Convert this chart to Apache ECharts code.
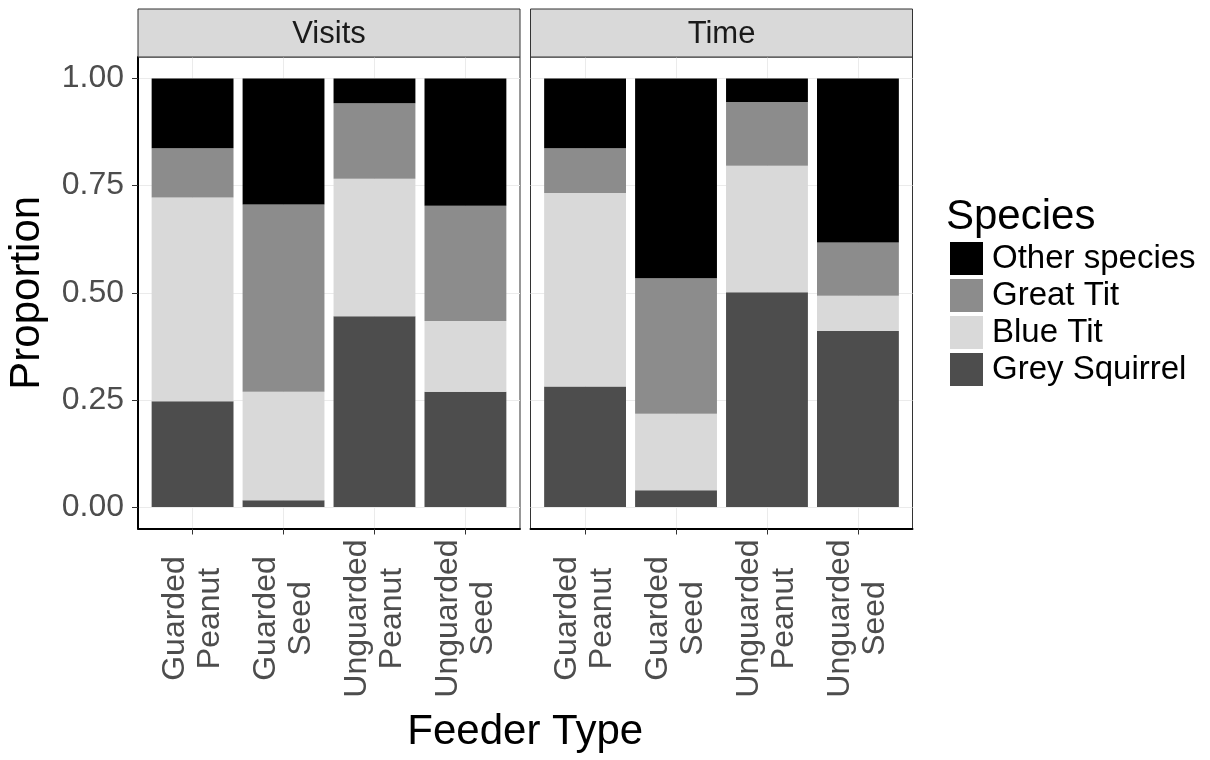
<!DOCTYPE html>
<html>
<head>
<meta charset="utf-8">
<script src="https://cdn.jsdelivr.net/npm/echarts@6/dist/echarts.min.js"></script>
<style>html,body{margin:0;padding:0;background:#fff;}#c{width:1210px;height:760px;}</style>
</head>
<body>
<div id="c"></div>
<script>
// ---- data ----
const categories = ['Guarded\nPeanut', 'Guarded\nSeed', 'Unguarded\nPeanut', 'Unguarded\nSeed'];
const panels = ['Visits', 'Time'];
const species = ['Grey Squirrel', 'Blue Tit', 'Great Tit', 'Other species'];
const legendOrder = ['Other species', 'Great Tit', 'Blue Tit', 'Grey Squirrel'];
const yTicks = [0, 0.25, 0.5, 0.75, 1];

const visitsGreySquirrel = [0.247, 0.016, 0.445, 0.269];
const visitsBlueTit      = [0.475, 0.253, 0.321, 0.165];
const visitsGreatTit     = [0.115, 0.437, 0.176, 0.269];
const visitsOther        = [0.163, 0.294, 0.058, 0.297];

const timeGreySquirrel = [0.281, 0.039, 0.501, 0.411];
const timeBlueTit      = [0.452, 0.179, 0.295, 0.082];
const timeGreatTit     = [0.104, 0.316, 0.149, 0.124];
const timeOther        = [0.163, 0.466, 0.055, 0.383];

const panelData = [
  [visitsGreySquirrel, visitsBlueTit, visitsGreatTit, visitsOther],
  [timeGreySquirrel, timeBlueTit, timeGreatTit, timeOther]
];
const colors = { 'Grey Squirrel': '#4d4d4d', 'Blue Tit': '#d9d9d9', 'Great Tit': '#8c8c8c', 'Other species': '#000000' };

// ---- layout ----
const FONT = 'Liberation Sans, Arial, sans-serif';
const gridLefts = [138, 530.5];
const gridTop = 57, gridW = 382, gridH = 471.5;
const xTickVals = categories.map((c, i) => i + 1);
const unit = gridW / (categories.length + 0.2);   // ggplot discrete expansion 0.6 each side

const chart = echarts.init(document.getElementById('c'), null, { renderer: 'canvas' });

const grids = [], xAxes = [], yAxes = [], series = [], graphics = [];
// outer (decoration) grids: 0,1 ; inner (bar) grids: 2,3
panels.forEach((p, k) => {
  grids.push({ left: gridLefts[k], top: gridTop, width: gridW, height: gridH, show: true,
    borderColor: '#333333', borderWidth: 1, backgroundColor: '#fff' });
  xAxes.push({
    type: 'value', gridIndex: k, min: 0.4, max: 4.6, minInterval: 1, maxInterval: 1,
    splitLine: { show: true, lineStyle: { color: '#ebebeb', width: 1 } },
    axisLine: { show: true, onZero: false, lineStyle: { color: '#000', width: 2 } },
    axisTick: { show: true, customValues: xTickVals, length: 6, lineStyle: { color: '#333', width: 1 } },
    axisLabel: { customValues: xTickVals, rotate: 90, align: 'center', verticalAlign: 'middle', margin: 90,
      fontSize: 32, lineHeight: 35, color: '#4d4d4d', fontFamily: FONT,
      formatter: v => categories[Math.round(v) - 1] }
  });
  yAxes.push({
    type: 'value', gridIndex: k, min: -0.05, max: 1.05, minInterval: 0.125, maxInterval: 0.125,
    splitLine: { show: true, lineStyle: { color: '#ebebeb', width: 1 } },
    axisLine: { show: k === 0, onZero: false, lineStyle: { color: '#000', width: 2 } },
    axisTick: { show: k === 0, customValues: yTicks, length: 6, lineStyle: { color: '#333', width: 1 } },
    axisLabel: { show: k === 0, customValues: yTicks, formatter: v => v.toFixed(2), fontSize: 32,
      color: '#4d4d4d', margin: 14, fontFamily: FONT },
    name: k === 0 ? 'Proportion' : '', nameLocation: 'middle', nameGap: 90,
    nameTextStyle: { fontSize: 42, color: '#000', fontFamily: FONT }
  });
  graphics.push({
    type: 'rect', shape: { x: gridLefts[k], y: 9, width: gridW, height: gridTop - 9 },
    style: { fill: '#d9d9d9', stroke: '#333333', lineWidth: 1 }, z: 10
  });
  graphics.push({
    type: 'text', x: gridLefts[k] + gridW / 2, y: (9 + gridTop) / 2 + 1,
    style: { text: p, fontSize: 31, fill: '#1a1a1a', fontFamily: FONT, align: 'center', verticalAlign: 'middle' }, z: 11
  });
});
panels.forEach((p, k) => {
  const gi = k + 2;
  grids.push({ left: gridLefts[k] + 0.1 * unit, top: gridTop, width: unit * categories.length, height: gridH, show: false });
  xAxes.push({ type: 'category', gridIndex: gi, data: categories, boundaryGap: true, show: false });
  yAxes.push({ type: 'value', gridIndex: gi, min: -0.05, max: 1.05, show: false, splitLine: { show: false } });
  species.forEach((s, j) => {
    series.push({
      name: s, type: 'bar', xAxisIndex: gi, yAxisIndex: gi, stack: p, barCategoryGap: '10%',
      itemStyle: { color: colors[s] },
      data: panelData[k][j]
    });
  });
});

graphics.push({
  type: 'text', x: (gridLefts[0] + gridLefts[1] + gridW) / 2, y: 732,
  style: { text: 'Feeder Type', fontSize: 42, fill: '#000', fontFamily: FONT, align: 'center', verticalAlign: 'middle' }
});

chart.setOption({
  animation: false,
  backgroundColor: '#fff',
  title: { text: 'Species', left: 946, top: 196, padding: 0,
    textStyle: { fontSize: 42, fontWeight: 'normal', color: '#000', fontFamily: FONT } },
  legend: { orient: 'vertical', left: 950, top: 242, itemWidth: 33, itemHeight: 33, itemGap: 4,
    icon: 'rect', selectedMode: false, padding: 0, data: legendOrder,
    textStyle: { fontSize: 33, color: '#000', lineHeight: 33, fontFamily: FONT, padding: [0, 0, 0, 4] } },
  grid: grids,
  xAxis: xAxes,
  yAxis: yAxes,
  series: series,
  graphic: graphics
});
</script>
</body>
</html>
